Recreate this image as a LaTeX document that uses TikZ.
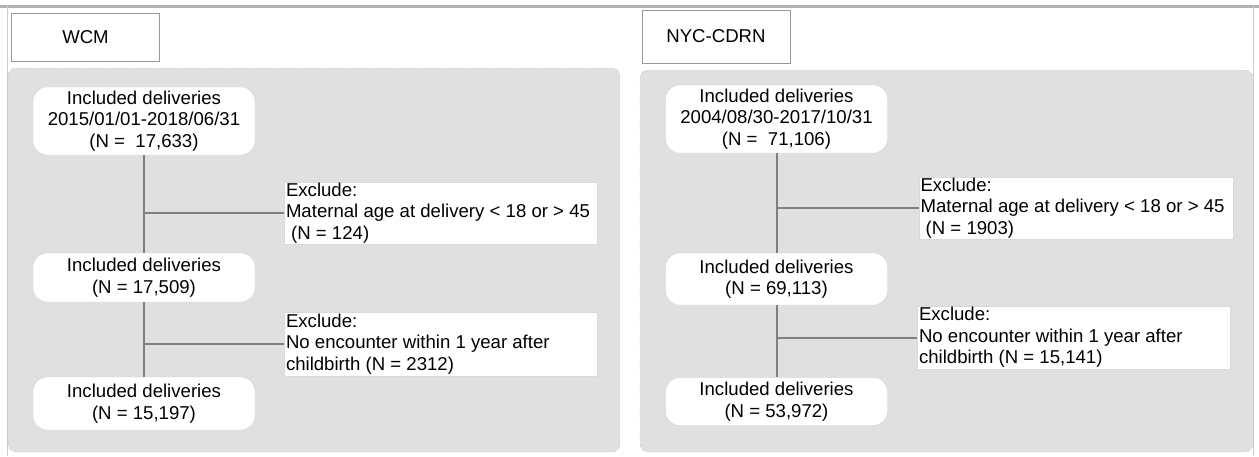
\documentclass[tikz,border=0pt]{standalone}
\usepackage{fontspec}
\setmainfont{Liberation Sans}

\begin{document}
\begin{tikzpicture}[x=1pt,y=-1pt, every node/.style={font=\fontsize{18.6}{21.5}\selectfont},
  incl/.style={draw=black!18, fill=white, rounded corners=14pt, minimum width=222pt, align=center, inner sep=1pt},
  excl/.style={draw=black!15, fill=white, text width=310pt, inner xsep=1.5pt, inner ysep=1pt, align=left, minimum height=62pt,
    execute at begin node={\spaceskip=0.278em\relax}},
  site/.style={draw=black!40, fill=white, minimum width=148pt, minimum height=48pt},
  link/.style={draw=black!50, line width=2pt},
  panel/.style={fill=black!12, draw=black!22, dashed, rounded corners=8pt}]
  \useasboundingbox (0,0) rectangle (1259,456);
  \draw[black!30, line width=3pt] (0,6) -- (1259,6);
  \draw[black!20, line width=0.8pt] (7,6) -- (7,456);
  \draw[black!20, line width=0.8pt] (1253,6) -- (1253,456);
  \draw[panel] (8,68) rectangle (620,452);
  \draw[panel] (640,70) rectangle (1253,452);
  \begin{scope}
    \node[site] (wcm) at (85.5,37) {WCM};
    \node[incl, minimum height=68pt] (w1) at (144,121) {Included deliveries\\2015/01/01-2018/06/31\\(N = \ 17,633)};
    \node[incl, minimum height=49pt] (w2) at (144,277.5) {Included deliveries\\(N = 17,509)};
    \node[incl, minimum height=53pt] (w3) at (144,403.5) {Included deliveries\\(N = 15,197)};
    \node[excl] (wx1) at (441,213) {Exclude:\\Maternal age at delivery < 18 or > 45\\\ (N = 124)};
    \node[excl, minimum height=64pt] (wx2) at (441,344) {Exclude:\\No encounter within 1 year after\\childbirth (N = 2312)};
    \draw[link] (w1) -- (w2);
    \draw[link] (w2) -- (w3);
    \draw[link] (w1 |- wx1.west) -- (wx1.west);
    \draw[link] (w2 |- wx2.west) -- (wx2.west);
  \end{scope}
  \begin{scope}[xshift=632pt]
    \node[site, minimum height=53pt] (nyc) at (84,36.5) {NYC-CDRN};
    \node[incl, minimum height=68pt] (n1) at (144.5,119) {Included deliveries\\2004/08/30-2017/10/31\\(N = \ 71,106)};
    \node[incl, minimum height=52pt] (n2) at (144.5,279) {Included deliveries\\(N = 69,113)};
    \node[incl, minimum height=48pt] (n3) at (144.5,401.5) {Included deliveries\\(N = 53,972)};
    \node[excl, text width=311pt] (nx1) at (444,208) {Exclude:\\Maternal age at delivery < 18 or > 45\\\ (N = 1903)};
    \node[excl, minimum height=63pt] (nx2) at (442,337.5) {Exclude:\\No encounter within 1 year after\\childbirth (N = 15,141)};
    \draw[link] (n1) -- (n2);
    \draw[link] (n2) -- (n3);
    \draw[link] (n1 |- nx1.west) -- (nx1.west);
    \draw[link] (n2 |- nx2.west) -- (nx2.west);
  \end{scope}
\end{tikzpicture}
\end{document}
